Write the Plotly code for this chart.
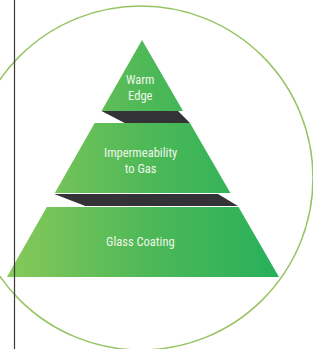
import plotly.graph_objects as go

# ---- data ----
tier_labels = ["Warm<br>Edge", "Impermeability<br>to Gas", "Glass Coating"]
tier_top = [40, 123, 207]          # y of tier tops (pixel units)
tier_bottom = [111, 193, 277]      # y of tier bottoms
band_top = [111, 194]              # dark separator bands
band_bottom = [123, 206]
label_y = [87, 160, 241]

# ---- geometry constants ----
W, H = 313, 349
apex_x, apex_y = 142, 40
slope_l, slope_r = -0.570, 0.578    # dx/dy of pyramid sides
band_right_inset = [5, 13]
band_left_offset = [30, 38]
circle_cx, circle_cy, circle_r = 141, 178, 172


def left_x(y):
    return apex_x + slope_l * (y - apex_y)


def right_x(y):
    return apex_x + slope_r * (y - apex_y)


fig = go.Figure()

green_scale = [[0, "#88c95a"], [0.5, "#4fb957"], [1, "#27b05b"]]

for i, (t, b) in enumerate(zip(tier_top, tier_bottom)):
    if i == 0:
        xs = [apex_x, right_x(b), left_x(b), apex_x]
        ys = [t, b, b, t]
    else:
        xs = [left_x(t), right_x(t), right_x(b), left_x(b), left_x(t)]
        ys = [t, t, b, b, t]
    fig.add_trace(go.Scatter(
        x=xs, y=ys, mode="lines", line=dict(width=0), fill="toself",
        fillgradient=dict(type="horizontal", colorscale=green_scale,
                          start=left_x(tier_bottom[-1]), stop=right_x(tier_bottom[-1])),
        hoverinfo="skip", showlegend=False))

for i, (t, b) in enumerate(zip(band_top, band_bottom)):
    xs = [left_x(t), right_x(t) - band_right_inset[i], right_x(b),
          left_x(b) + band_left_offset[i], left_x(t)]
    ys = [t, t, b, b, t]
    fig.add_trace(go.Scatter(
        x=xs, y=ys, mode="lines", line=dict(width=0), fill="toself",
        fillcolor="#333337", hoverinfo="skip", showlegend=False))

font_family = "Liberation Sans Narrow, Roboto Condensed, Arial Narrow, Roboto, sans-serif"
for txt, yy in zip(tier_labels, label_y):
    fig.add_annotation(x=apex_x - 1.5, y=yy, text=txt, showarrow=False,
                       xanchor="center", yanchor="middle", align="center",
                       font=dict(family=font_family, size=12.5, color="#eef6ea"))

# circle
fig.add_shape(type="circle", xref="x", yref="y",
              x0=circle_cx - circle_r, x1=circle_cx + circle_r,
              y0=circle_cy - circle_r, y1=circle_cy + circle_r,
              line=dict(color="#96c464", width=1.5), layer="below")
# vertical rule
fig.add_shape(type="line", xref="x", yref="paper", x0=14.5, x1=14.5, y0=0, y1=1,
              line=dict(color="#3a3a3a", width=1.2))

fig.update_xaxes(range=[0, W], visible=False, fixedrange=True)
fig.update_yaxes(range=[H, 0], visible=False, fixedrange=True)
fig.update_layout(width=W, height=H, margin=dict(l=0, r=0, t=0, b=0),
                  paper_bgcolor="white", plot_bgcolor="white")

fig.write_html("out.html", config={"displayModeBar": False},
               post_script="document.body.style.margin='0px';document.body.style.overflow='hidden';")
